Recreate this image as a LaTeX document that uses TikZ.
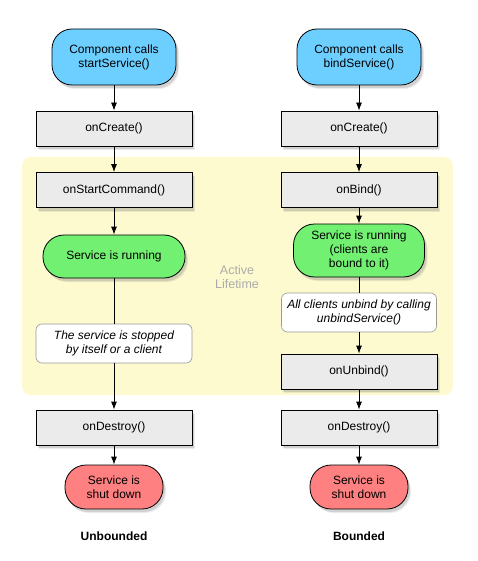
\documentclass[tikz,border=0pt]{standalone}
\usepackage{fontspec}
\setmainfont{Liberation Sans}
\usetikzlibrary{positioning,shadows,arrows.meta}

\definecolor{callblue}{RGB}{108,207,255}
\definecolor{rungreen}{RGB}{114,240,114}
\definecolor{downred}{RGB}{255,128,128}
\definecolor{boxgray}{RGB}{235,235,235}
\definecolor{lifeyellow}{RGB}{252,250,206}
\definecolor{lifetext}{RGB}{172,172,172}

\tikzset{
  base/.style={draw=black, line width=0.8pt, align=center, inner sep=0pt,
    font=\fontsize{12}{14}\selectfont},
  shade box/.style={drop shadow={shadow xshift=3pt, shadow yshift=-4pt, opacity=0.15},
    drop shadow={shadow xshift=2pt, shadow yshift=-3pt, opacity=0.25}},
  call/.style={base, fill=callblue, rounded corners=20pt, minimum width=124pt,
    minimum height=56pt, shade box},
  method/.style={base, fill=boxgray, minimum width=156pt, minimum height=35pt, shade box},
  running/.style={base, fill=rungreen, rounded corners=21pt, shade box},
  down/.style={base, fill=downred, rounded corners=21pt, minimum width=98pt,
    minimum height=44pt, shade box},
  note/.style={base, draw=black!40, line width=0.6pt, fill=white, rounded corners=6pt,
    minimum width=156pt, minimum height=39pt, font=\fontsize{12}{14}\selectfont\itshape},
  title/.style={font=\fontsize{12}{14}\selectfont\bfseries},
  >={Latex[length=8pt,width=6pt]}
}

\begin{document}
\begin{tikzpicture}[x=1pt,y=-1pt,on grid,line width=0.8pt]
  \useasboundingbox (0,0) rectangle (478,561);
  \fill[lifeyellow, rounded corners=9pt] (22,157) rectangle (453,395);
  \node[font=\fontsize{12.5}{14.5}\selectfont, text=lifetext, align=center] (active) at (237,277) {Active\\Lifetime};

  % unbounded service
  \node[call]     (start)    at (114,57)                 {Component calls\\startService()};
  \node[method]   (create1)  [below=71.5pt of start]     {onCreate()};
  \node[method]   (command)  [below=61.5pt of create1]   {onStartCommand()};
  \node[running, minimum width=142pt, minimum height=43pt]
                  (run1)     [below=66.5pt of command]   {Service is running};
  \node[note]     (stop)     [below=87pt of run1]        {The service is stopped\\by itself or a client};
  \node[method]   (destroy1) [below=84pt of stop]        {onDestroy()};
  \node[down]     (down1)    [below=59.5pt of destroy1]  {Service is\\shut down};
  \node[title]    (unbound)  [below=49pt of down1]       {Unbounded};

  % bounded service
  \node[call]     (bind)     at (359,57)                 {Component calls\\bindService()};
  \node[method]   (create2)  [below=71.5pt of bind]      {onCreate()};
  \node[method]   (onbind)   [below=61.5pt of create2]   {onBind()};
  \node[running, minimum width=131pt, minimum height=53pt]
                  (run2)     [below=60.5pt of onbind]    {Service is running\\(clients are\\bound to it)};
  \node[note, minimum width=155pt]
                  (unbindall) [below=62pt of run2]       {All clients unbind by calling\\unbindService()};
  \node[method]   (onunbind) [below=59pt of unbindall]   {onUnbind()};
  \node[method]   (destroy2) [below=56pt of onunbind]    {onDestroy()};
  \node[down]     (down2)    [below=59.5pt of destroy2]  {Service is\\shut down};
  \node[title]    (bound)    [below=49pt of down2]       {Bounded};

  \path[->]
    (start)     edge (create1)
    (create1)   edge (command)
    (command)   edge (run1)
    (stop)      edge (destroy1)
    (destroy1)  edge (down1)
    (bind)      edge (create2)
    (create2)   edge (onbind)
    (onbind)    edge (run2)
    (unbindall) edge (onunbind)
    (onunbind)  edge (destroy2)
    (destroy2)  edge (down2);
  \draw (run1) -- (stop);
  \draw (run2) -- (unbindall);
\end{tikzpicture}
\end{document}
